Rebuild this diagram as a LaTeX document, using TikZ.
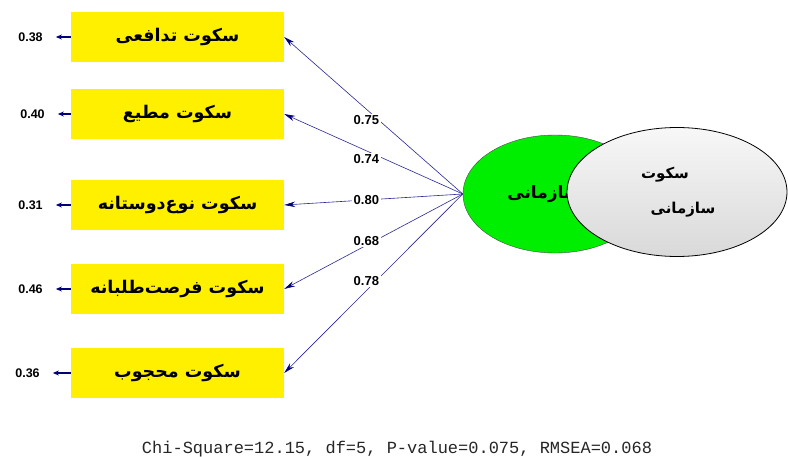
\documentclass[tikz,border=0pt]{standalone}
\usepackage{fontspec}
\setmainfont{Liberation Sans}
\newfontfamily\farsi[Script=Arabic]{DejaVu Sans}
\newfontfamily\codefont{Liberation Mono}
\TeXXeTstate=1
\usepackage{xcolor}
\usepackage{tikz}
\usetikzlibrary{shapes.geometric, arrows, arrows.meta, positioning}
\definecolor{boxyellow}{RGB}{255,240,0}
\definecolor{latgreen}{RGB}{0,238,0}
\definecolor{pathblue}{RGB}{40,40,150}
\definecolor{tipblue}{RGB}{0,0,120}
\tikzstyle{factor} = [rectangle, 
minimum width=213pt, 
minimum height=50pt,
text centered, 
fill=boxyellow,
font=\farsi\bfseries\fontsize{17.5}{20}\selectfont]
\tikzstyle{latent} = [ellipse, 
minimum width=184pt, 
minimum height=118pt,
inner sep=0pt,
draw=black!70, 
fill=latgreen,
font=\farsi\bfseries\fontsize{17}{20}\selectfont]
\tikzstyle{outer} = [ellipse, 
minimum width=220pt, 
minimum height=129pt,
inner sep=0pt,
draw=black, line width=0.8pt,
top color=gray!6, bottom color=gray!30,
align=center,
font=\farsi\bfseries\fontsize{15}{35}\selectfont]
\tikzstyle{arrow} = [draw=pathblue, line width=0.6pt, ->, >={Stealth[length=11pt,width=5.5pt,color=tipblue]}]
\tikzstyle{errarrow} = [draw=tipblue, line width=1.3pt, ->, >={Stealth[length=6pt,width=5pt]}, shorten >=12pt]
\tikzstyle{coef} = [fill=white, inner sep=1.5pt, font=\bfseries\fontsize{13}{15}\selectfont]
\tikzstyle{errvar} = [inner sep=1pt, font=\bfseries\fontsize{12.5}{14}\selectfont]

\begin{document}
\begin{tikzpicture}[x=1pt, y=-1pt, node distance=84pt]
\useasboundingbox (0,0) rectangle (788,457);

\node (b1) [factor] at (177.5,37) {\beginR سکوت تدافعی\endR};
\node (b2) [factor, below of=b1, yshift=7pt] {\beginR سکوت مطیع\endR};
\node (b3) [factor, below of=b2, yshift=-7pt] {\beginR سکوت نوع‌دوستانه\endR};
\node (b4) [factor, below of=b3] {\beginR سکوت فرصت‌طلبانه\endR};
\node (b5) [factor, below of=b4] {\beginR سکوت محجوب\endR};

\node (e1) [errvar, left of=b1, node distance=147pt] {0.38};
\node (e2) [errvar, left of=b2, node distance=145pt] {0.40};
\node (e3) [errvar, left of=b3, node distance=147pt] {0.31};
\node (e4) [errvar, left of=b4, node distance=147pt] {0.46};
\node (e5) [errvar, left of=b5, node distance=150pt] {0.36};

\node (lat) [latent] at (555,194) {\hspace*{-22pt}\beginR سازمانی\endR};
\node (silence) [outer] at (677,192) {\beginR سکوت\endR\hspace*{24pt}\\\hspace*{12pt}\beginR سازمانی\endR};

\draw [arrow] (lat.west) -- node[coef, pos=0.54, yshift=-11pt] {0.75} (b1.east);
\draw [arrow] (lat.west) -- node[coef, pos=0.54, yshift=-8pt] {0.74} (b2.east);
\draw [arrow] (lat.west) -- node[coef, pos=0.54] {0.80} (b3.east);
\draw [arrow] (lat.west) -- node[coef, pos=0.54, yshift=4pt] {0.68} (b4.east);
\draw [arrow] (lat.west) -- node[coef, pos=0.54, yshift=10pt] {0.78} (b5.east);

\draw [errarrow] (b1.west) -- (e1.east);
\draw [errarrow] (b2.west) -- (e2.east);
\draw [errarrow] (b3.west) -- (e3.east);
\draw [errarrow] (b4.west) -- (e4.east);
\draw [errarrow] (b5.west) -- (e5.east);

\node (fit) [font=\codefont\fontsize{17}{20}\selectfont, text=black!85] at (397,449) {Chi-Square=12.15, df=5, P-value=0.075, RMSEA=0.068};

\end{tikzpicture}
\end{document}
